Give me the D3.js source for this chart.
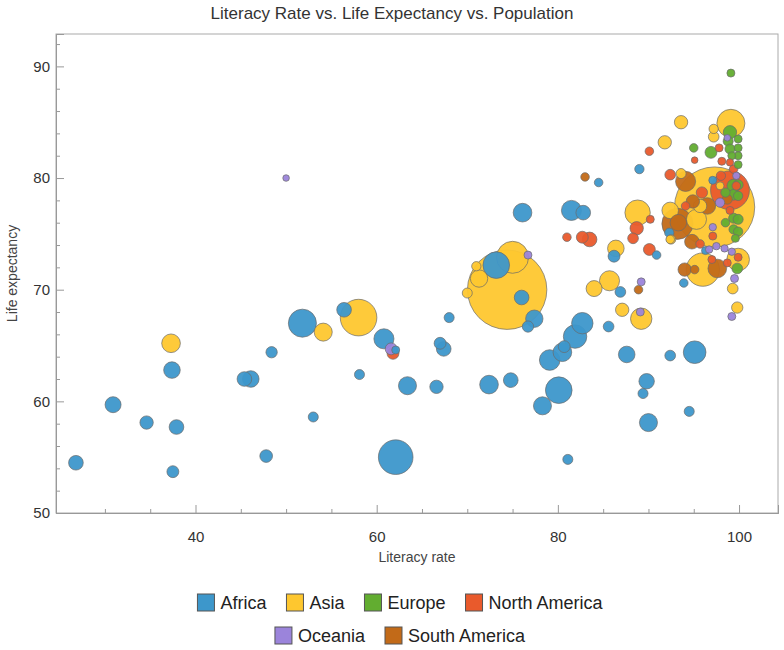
<!DOCTYPE html>
<html><head><meta charset="utf-8">
<script src="https://cdn.jsdelivr.net/npm/d3@7"></script>
<style>body{margin:0;background:#fff;font-family:"Liberation Sans",Arial,sans-serif}</style>
</head><body><div id="chart"></div>
<script>
// [literacy, life expectancy, population (millions)]
const africa = [[26.8,54.5,47],[30.9,59.7,56],[34.6,58.1,39],[37.9,57.7,47],[37.5,53.7,31],[37.4,62.8,60],[45.4,62.0,47],[46.1,62.0,60],[48.4,64.4,28],[47.8,55.1,35],[51.8,67.0,172],[56.4,68.2,47],[58.1,62.4,22],[53.0,58.6,22],[60.8,65.6,88],[62.1,64.6,14],[62.1,55.0,262],[63.4,61.4,71],[66.6,61.3,39],[67.0,65.2,31],[67.4,64.7,47],[68.0,67.5,22],[72.4,61.5,76],[73.2,72.2,155],[74.8,61.9,47],[76.0,69.3,47],[76.1,76.9,76],[77.4,67.4,66],[76.7,66.7,28],[78.3,59.6,71],[80.1,61.0,155],[79.1,63.7,93],[80.5,64.4,76],[80.7,64.9,31],[81.9,65.8,120],[82.7,67.0,100],[81.1,54.8,22],[81.5,77.1,88],[82.8,76.9,47],[84.5,79.6,16],[85.6,66.7,25],[86.2,73.0,31],[87.6,64.2,60],[86.9,69.8,25],[89.0,80.8,19],[89.8,61.8,52],[89.4,60.7,22],[90.0,58.1,71],[92.4,64.1,25],[94.5,59.1,22],[95.1,64.4,112],[90.9,73.1,16],[92.3,75.1,19],[93.9,70.6,16],[97.1,79.8,14],[96.3,73.5,14]];
const asia = [[37.3,65.2,76],[54.1,66.2,71],[58.0,67.5,293],[74.4,70.0,1380],[75.0,72.9,224],[71.0,72.1,19],[71.3,71.0,66],[70.0,69.7,22],[85.7,70.8,88],[84.0,70.1,56],[87.1,68.2,39],[89.2,67.4,100],[86.4,73.7,60],[88.8,76.9,141],[92.5,74.5,19],[93.6,80.4,22],[93.6,85.0,39],[91.8,83.2,39],[97.2,84.4,19],[97.2,83.7,25],[99.1,84.9,172],[97.3,77.4,1410],[96.0,71.8,244],[99.9,72.7,112],[99.3,70.1,25],[99.8,68.4,28],[92.4,77.1,60],[97.9,79.3,14],[95.7,77.5,39],[95.3,76.3,88],[92.4,74.5,16]];
const europe = [[99.1,89.4,14],[95.0,82.7,16],[96.9,82.3,31],[99.0,84.1,39],[98.8,83.3,22],[99.9,83.5,14],[99.9,82.7,14],[99.0,82.6,22],[99.9,82.0,14],[99.2,82.0,14],[99.9,81.2,14],[99.4,79.3,39],[99.9,79.4,22],[98.5,78.7,19],[99.4,78.5,25],[99.9,78.4,19],[99.4,76.4,22],[99.9,76.3,22],[99.4,75.4,19],[99.9,75.2,19],[98.5,76.0,16],[99.8,71.9,25],[99.6,74.6,14]];
const northAmerica = [[61.8,64.3,31],[81.0,74.7,16],[82.7,74.7,31],[83.5,74.5,47],[90.2,76.3,14],[88.7,75.5,39],[88.3,74.6,25],[90.1,73.6,31],[92.4,80.3,25],[95.1,81.6,9.5],[90.1,82.4,16],[97.8,82.7,14],[98.1,81.5,14],[99.0,81.4,12],[99.4,80.8,16],[98.0,80.2,19],[95.9,78.7,28],[94.1,77.5,16],[99.7,79.3,16],[99.0,77.1,14],[95.7,74.1,16],[97.1,74.8,14],[97.0,72.7,14],[98.7,72.4,14],[99.9,72.9,14],[99.0,78.9,330]];
const southAmerica = [[83.0,80.1,16],[88.9,70.0,16],[94.0,71.8,39],[95.1,71.8,16],[94.1,79.7,88],[93.3,76.0,60],[94.8,74.3,47],[97.6,71.9,76],[96.5,77.5,60],[94.9,77.9,39],[98.7,78.1,22],[93.2,75.9,212]];
const oceania = [[50.0,80.0,9.5],[61.6,64.7,31],[76.7,73.1,14],[89.2,70.7,14],[89.1,68.0,14],[98.7,83.6,9.5],[99.7,80.2,12],[97.9,77.8,19],[97.1,75.6,12],[96.7,73.6,12],[97.5,73.9,12],[98.4,73.7,12],[99.2,73.4,12],[99.5,71.0,14],[99.2,67.6,14]];

const regions = [
  {name:"Africa", color:"#3d97cb", data:africa},
  {name:"Asia", color:"#fec72f", data:asia},
  {name:"Europe", color:"#62ad30", data:europe},
  {name:"North America", color:"#e95a2c", data:northAmerica},
  {name:"Oceania", color:"#9b84db", data:oceania},
  {name:"South America", color:"#c26a18", data:southAmerica}
];
const xTicks = [40,60,80,100], yTicks = [50,60,70,80,90];

const W = 784, H = 650, m = {l:56, r:778, t:34, b:513};
const svg = d3.select("#chart").append("svg").attr("width", W).attr("height", H);
const x = d3.scaleLinear().domain([24.6,104.3]).range([m.l, m.r]);
const y = d3.scaleLinear().domain([50,92.9]).range([m.b, m.t]);
const r = d3.scaleSqrt().domain([0,1400]).range([0,40]);

svg.append("rect").attr("x",m.l).attr("y",m.t).attr("width",m.r-m.l).attr("height",m.b-m.t)
  .attr("fill","none").attr("stroke","#aaa");

const pts = [];
regions.forEach(g => g.data.forEach(d => pts.push({lit:d[0], life:d[1], pop:d[2], color:g.color})));
pts.sort((a,b) => b.pop - a.pop);
svg.append("g").selectAll("circle").data(pts).enter().append("circle")
  .attr("cx", d => x(d.lit)).attr("cy", d => y(d.life))
  .attr("r", d => Math.max(3.3, r(d.pop)))
  .attr("fill", d => d.color).attr("fill-opacity",0.95)
  .attr("stroke","#6b6b6b").attr("stroke-opacity",0.7).attr("stroke-width",1);

// axes
const xa = svg.append("g").attr("transform",`translate(0,${m.b})`)
  .call(d3.axisBottom(x).tickValues(xTicks).tickSize(-8).tickPadding(18));
const xm = svg.append("g").attr("transform",`translate(0,${m.b})`)
  .call(d3.axisBottom(x).tickValues(d3.range(30,104,5).filter(v=>v%20)).tickSize(-4).tickFormat(""));
const ya = svg.append("g").attr("transform",`translate(${m.l},0)`)
  .call(d3.axisLeft(y).tickValues(yTicks).tickSize(-8).tickPadding(6));
const ym = svg.append("g").attr("transform",`translate(${m.l},0)`)
  .call(d3.axisLeft(y).tickValues(d3.range(52,93,2).filter(v=>v%10)).tickSize(-4).tickFormat(""));
[xa,xm,ya,ym].forEach(a => {
  a.select(".domain").attr("stroke","#999");
  a.selectAll(".tick line").attr("stroke","#999");
  a.selectAll("text").attr("font-size",15).attr("fill","#333").attr("font-family","Liberation Sans, Arial");
});

svg.append("text").attr("x",W/2).attr("y",19).attr("text-anchor","middle")
  .attr("font-size",17).attr("fill","#333").text("Literacy Rate vs. Life Expectancy vs. Population");
svg.append("text").attr("x",(m.l+m.r)/2).attr("y",562).attr("text-anchor","middle")
  .attr("font-size",14).attr("fill","#444").text("Literacy rate");
svg.append("text").attr("transform",`translate(17,${(m.t+m.b)/2}) rotate(-90)`).attr("text-anchor","middle")
  .attr("font-size",14).attr("fill","#444").text("Life expectancy");

// legend
const rows = [regions.slice(0,4), regions.slice(4)];
rows.forEach((row, i) => {
  const yy = 603 + i*33;
  const g = svg.append("g");
  let cx = 0;
  row.forEach(d => {
    const it = g.append("g").attr("transform",`translate(${cx},0)`);
    it.append("rect").attr("x",0).attr("y",yy-9).attr("width",17).attr("height",17)
      .attr("fill",d.color).attr("stroke","#555").attr("stroke-width",1);
    const t = it.append("text").attr("x",23).attr("y",yy+6).attr("font-size",18).attr("fill","#222").text(d.name);
    cx += 23 + t.node().getComputedTextLength() + 20;
  });
  g.attr("transform",`translate(${(W - (cx-20))/2 + 8},0)`);
});
</script></body></html>
